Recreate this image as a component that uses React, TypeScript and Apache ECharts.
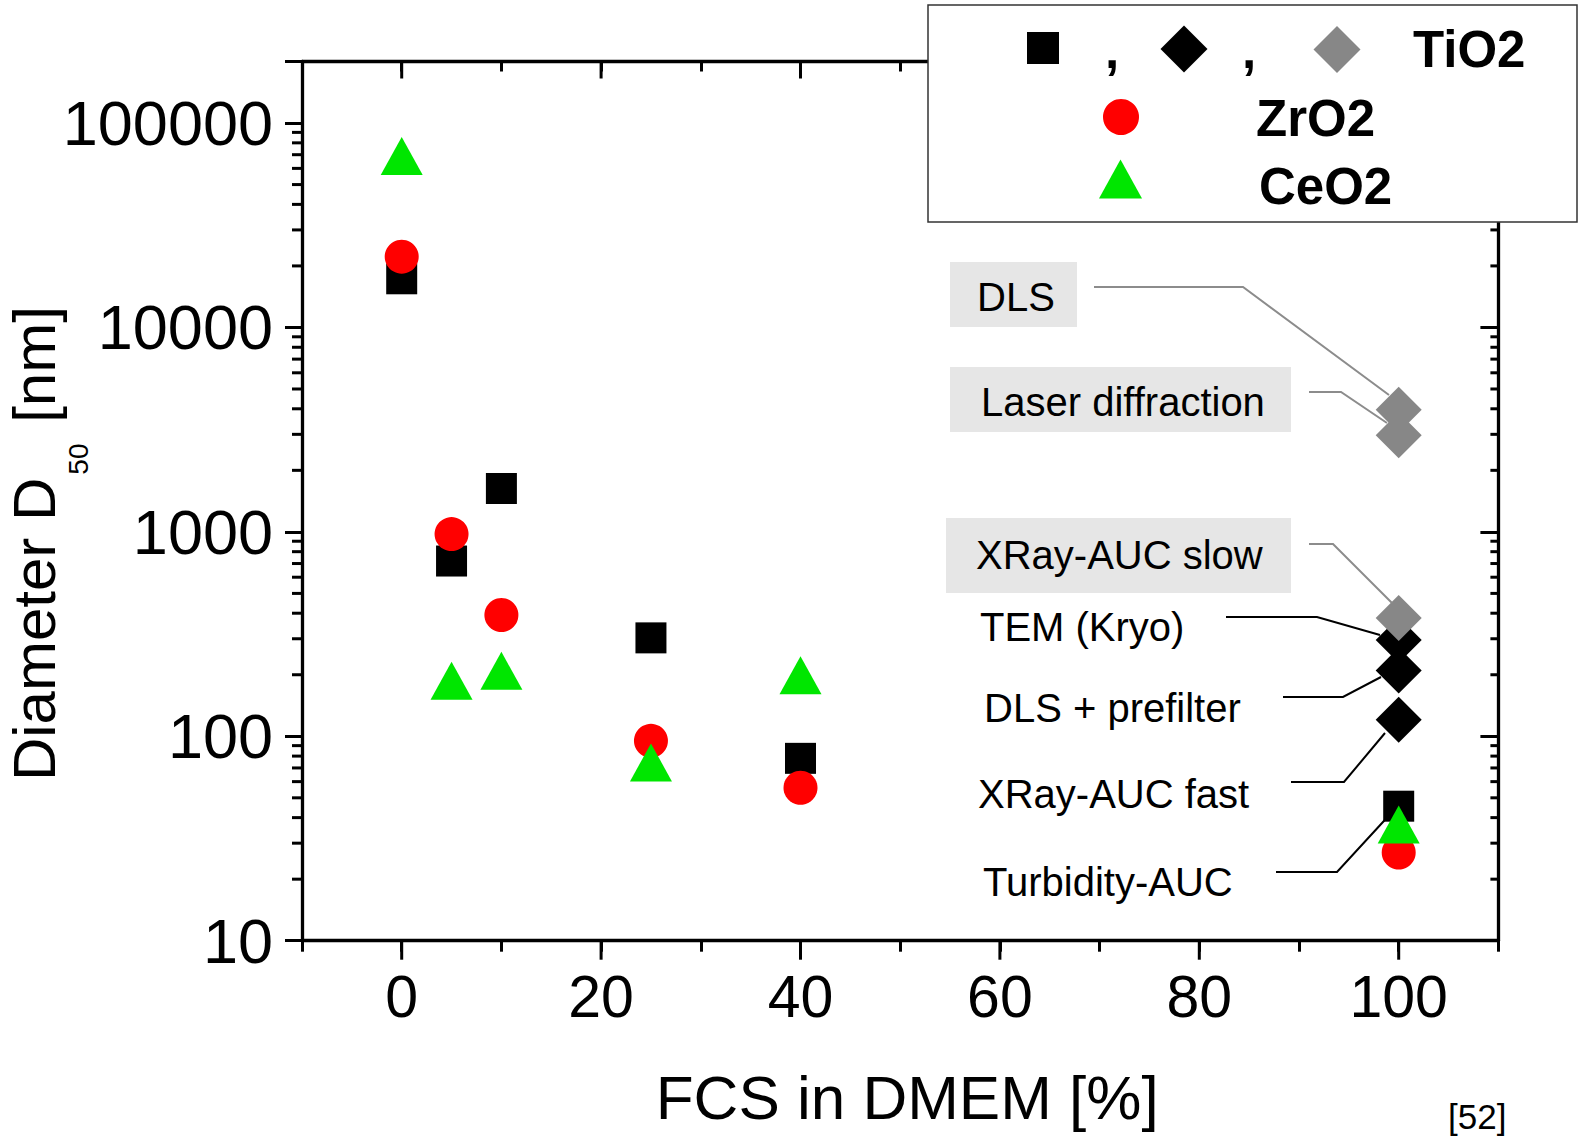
import React, { useEffect, useRef } from 'react';
import * as echarts from 'echarts';

// ---------------- data ----------------
const fcsPercent = [0, 5, 10, 25, 40, 100];
const tio2Squares = [17300, 720, 1630, 303, 78, 45.5];
const zro2Circles = [22200, 975, 392, 95, 56, 27];
const ceo2Triangles = [69000, 187, 209, 74.5, 199, 37];

// TiO2 at 100 % FCS: TEM (Kryo), DLS + prefilter, XRay-AUC fast
const tio2BlackDiamondX = [100, 100, 100];
const tio2BlackDiamonds = [296, 210, 120.5];
// TiO2 at 100 % FCS: DLS, Laser diffraction, XRay-AUC slow
const tio2GrayDiamondX = [100, 100, 100];
const tio2GrayDiamonds = [3960, 2970, 379];

const xMajorTicks = [0, 20, 40, 60, 80, 100];
const yMinorTicks = [
  20, 30, 40, 50, 60, 70, 80, 90,
  200, 300, 400, 500, 600, 700, 800, 900,
  2000, 3000, 4000, 5000, 6000, 7000, 8000, 9000,
  20000, 30000, 40000, 50000, 60000, 70000, 80000, 90000,
];

const X_MIN = -10;
const X_MAX = 110;
const Y_MIN = 10;
const Y_MAX = 200000;

const FONT = '"Liberation Sans", Arial, Helvetica, sans-serif';

const pairs = (xs: number[], ys: number[]) => xs.map((x, i) => [x, ys[i]]);

function buildOption() {
  const axisLine = { show: true, onZero: false, lineStyle: { color: '#000', width: 3.3 } };
  const tickStyle = { color: '#000', width: 3 };

  const tickSeries = {
    type: 'custom',
    name: 'axis ticks',
    silent: true,
    clip: false,
    z: 1,
    encode: { x: 0, y: 1 },
    data: [
      ...xMajorTicks.map((v) => [v, Y_MIN, 0]),
      ...yMinorTicks.map((v) => [X_MIN, v, 1]),
    ],
    renderItem: (_params: any, api: any) => {
      const kind = api.value(2);
      const st = { stroke: '#000', lineWidth: 3 };
      if (kind === 0) {
        const xv = api.value(0);
        const b = api.coord([xv, Y_MIN]);
        const t = api.coord([xv, Y_MAX]);
        return {
          type: 'group',
          children: [
            { type: 'line', shape: { x1: b[0], y1: b[1], x2: b[0], y2: b[1] + 19 }, style: st },
            { type: 'line', shape: { x1: t[0], y1: t[1], x2: t[0], y2: t[1] + 17 }, style: st },
          ],
        };
      }
      const yv = api.value(1);
      const l = api.coord([X_MIN, yv]);
      const r = api.coord([X_MAX, yv]);
      return {
        type: 'group',
        children: [
          { type: 'line', shape: { x1: l[0] - 10, y1: l[1], x2: l[0], y2: l[1] }, style: st },
          { type: 'line', shape: { x1: r[0] - 8, y1: r[1], x2: r[0], y2: r[1] }, style: st },
        ],
      };
    },
  };

  // annotation labels
  const annoText = (text: string, x: number, y: number) => ({
    type: 'text',
    z: 5,
    style: {
      text, x, y,
      fontSize: 40, fontFamily: FONT, fill: '#000',
      align: 'left', verticalAlign: 'middle',
      textAlign: 'left', textVerticalAlign: 'middle',
    },
  });
  const annoBox = (x: number, y: number, w: number, h: number) => ({
    type: 'rect', z: 4,
    shape: { x, y, width: w, height: h },
    style: { fill: '#e6e6e6' },
  });
  const leader = (pts: number[][], color: string) => ({
    type: 'polyline', z: 4,
    shape: { points: pts },
    style: { stroke: color, lineWidth: 2, fill: null },
  });
  const legendText = (text: string, x: number, y: number) => ({
    type: 'text', z: 61,
    style: {
      text, x, y,
      fontSize: 51, fontWeight: 'bold', fontFamily: FONT, fill: '#000',
      align: 'left', verticalAlign: 'middle',
      textAlign: 'left', textVerticalAlign: 'middle',
    },
  });
  const diamond = (cx: number, cy: number, h: number, color: string) => ({
    type: 'polygon', z: 61,
    shape: { points: [[cx, cy - h], [cx + h, cy], [cx, cy + h], [cx - h, cy]] },
    style: { fill: color },
  });

  const GRAY_LINE = '#8c8c8c';

  const graphic = [
    annoBox(950, 262, 127, 65),
    annoBox(950, 367, 341, 65),
    annoBox(946, 518, 345, 75),
    annoText('DLS', 977, 297),
    annoText('Laser diffraction', 981, 402),
    annoText('XRay-AUC slow', 976, 555),
    annoText('TEM (Kryo)', 980, 627),
    annoText('DLS + prefilter', 984, 708),
    annoText('XRay-AUC fast', 978, 794),
    annoText('Turbidity-AUC', 983, 882),
    leader([[1094, 287], [1243, 287], [1389, 395]], GRAY_LINE),
    leader([[1309, 392], [1341, 392], [1387, 423]], GRAY_LINE),
    leader([[1309, 544], [1333, 544], [1392, 603]], GRAY_LINE),
    leader([[1226, 617], [1317, 617], [1380, 635]], '#000'),
    leader([[1283, 697], [1343, 697], [1381, 677]], '#000'),
    leader([[1291, 782], [1344, 782], [1385, 733]], '#000'),
    leader([[1276, 872], [1337, 872], [1394, 810]], '#000'),
    // legend
    {
      type: 'rect', z: 60,
      shape: { x: 928, y: 5, width: 649, height: 217 },
      style: { fill: '#fff', stroke: '#333', lineWidth: 1.5 },
    },
    { type: 'rect', z: 61, shape: { x: 1027, y: 32, width: 32, height: 32 }, style: { fill: '#000' } },
    legendText(',', 1105, 50),
    diamond(1184, 49, 23.5, '#000'),
    legendText(',', 1242, 50),
    diamond(1337, 49.5, 23.5, '#878787'),
    legendText('TiO2', 1413, 49),
    { type: 'circle', z: 61, shape: { cx: 1121, cy: 117, r: 18 }, style: { fill: '#ff0000' } },
    legendText('ZrO2', 1256, 118),
    {
      type: 'polygon', z: 61,
      shape: { points: [[1120.5, 159.5], [1142, 198.5], [1099, 198.5]] },
      style: { fill: '#00e600' },
    },
    legendText('CeO2', 1259, 186),
    // reference mark
    {
      type: 'text', z: 5,
      style: {
        text: '[52]', x: 1448, y: 1116,
        fontSize: 35, fontFamily: FONT, fill: '#000',
        align: 'left', verticalAlign: 'middle',
        textAlign: 'left', textVerticalAlign: 'middle',
      },
    },
  ];

  const solid = (color: string) => ({ color, opacity: 1 });

  return {
    animation: false,
    backgroundColor: '#ffffff',
    grid: {
      left: 302, right: 81.6, top: 61.5, bottom: 197.3,
      containLabel: false, outerBoundsMode: 'none',
    },
    xAxis: [
      {
        type: 'value', position: 'bottom', min: X_MIN, max: X_MAX, interval: 10,
        axisLine,
        axisTick: { show: true, inside: false, length: 11, lineStyle: tickStyle },
        axisLabel: {
          margin: 27, fontSize: 59, color: '#000', fontFamily: FONT,
          formatter: (v: number) => {
            const r = Math.round(v);
            return xMajorTicks.indexOf(r) >= 0 ? String(r) : '';
          },
        },
        splitLine: { show: false },
        name: 'FCS in DMEM [%]',
        nameLocation: 'middle',
        nameGap: 126,
        nameMoveOverlap: false,
        nameTextStyle: { fontSize: 62, color: '#000', fontFamily: FONT, padding: [0, 0, 0, 14] },
      },
      {
        type: 'value', position: 'top', min: X_MIN, max: X_MAX, interval: 10,
        axisLine,
        axisTick: { show: true, inside: true, length: 10, lineStyle: tickStyle },
        axisLabel: { show: false },
        splitLine: { show: false },
      },
    ],
    yAxis: [
      {
        type: 'log', logBase: 10, position: 'left', min: Y_MIN, max: Y_MAX,
        axisLine,
        axisTick: { show: true, inside: false, length: 17, lineStyle: tickStyle },
        axisLabel: {
          margin: 29, fontSize: 63, color: '#000', fontFamily: FONT,
          formatter: (v: number) => {
            const r = Math.round(v);
            return r > 100000 ? '' : String(r);
          },
        },
        splitLine: { show: false },
        name: '{n|Diameter D}{s|50}{n| [nm]}',
        nameLocation: 'middle',
        nameRotate: 90,
        nameGap: 210,
        nameMoveOverlap: false,
        nameTextStyle: {
          color: '#000', fontFamily: FONT, fontSize: 60,
          padding: [0, 85, 0, 0],
          rich: {
            n: { fontSize: 60, fontFamily: FONT, color: '#000', lineHeight: 88, verticalAlign: 'top' },
            s: {
              fontSize: 28, fontFamily: FONT, color: '#000', lineHeight: 28,
              verticalAlign: 'bottom', padding: [0, 4, 0, 3],
            },
          },
        },
      },
      {
        type: 'log', logBase: 10, position: 'right', min: Y_MIN, max: Y_MAX,
        axisLine,
        axisTick: { show: true, inside: true, length: 18, lineStyle: tickStyle },
        axisLabel: { show: false },
        splitLine: { show: false },
      },
    ],
    series: [
      tickSeries,
      {
        type: 'scatter', name: 'TiO2', symbol: 'rect', symbolSize: 31,
        itemStyle: solid('#000000'),
        data: pairs(fcsPercent, tio2Squares), z: 3,
      },
      {
        type: 'scatter', name: 'TiO2 (TEM, DLS + prefilter, XRay-AUC fast)', symbol: 'diamond', symbolSize: 46,
        itemStyle: solid('#000000'),
        data: pairs(tio2BlackDiamondX, tio2BlackDiamonds), z: 3,
      },
      {
        type: 'scatter', name: 'TiO2 (DLS, Laser diffraction, XRay-AUC slow)', symbol: 'diamond', symbolSize: 46,
        itemStyle: solid('#878787'),
        data: pairs(tio2GrayDiamondX, tio2GrayDiamonds), z: 3,
      },
      {
        type: 'scatter', name: 'ZrO2', symbol: 'circle', symbolSize: 34,
        itemStyle: solid('#ff0000'),
        data: pairs(fcsPercent, zro2Circles), z: 3,
      },
      {
        type: 'scatter', name: 'CeO2', symbol: 'triangle', symbolSize: [42, 38],
        itemStyle: solid('#00e600'),
        data: pairs(fcsPercent, ceo2Triangles), z: 3,
      },
    ],
    graphic,
  };
}

export default function App() {
  const ref = useRef<HTMLDivElement>(null);
  useEffect(() => {
    if (!ref.current) return;
    const chart = echarts.init(ref.current, null, { renderer: 'svg' });
    chart.setOption(buildOption() as any);
    return () => chart.dispose();
  }, []);
  return (
    <div
      ref={ref}
      style={{ position: 'absolute', left: 0, top: 0, width: 1580, height: 1138, background: '#fff' }}
    />
  );
}
